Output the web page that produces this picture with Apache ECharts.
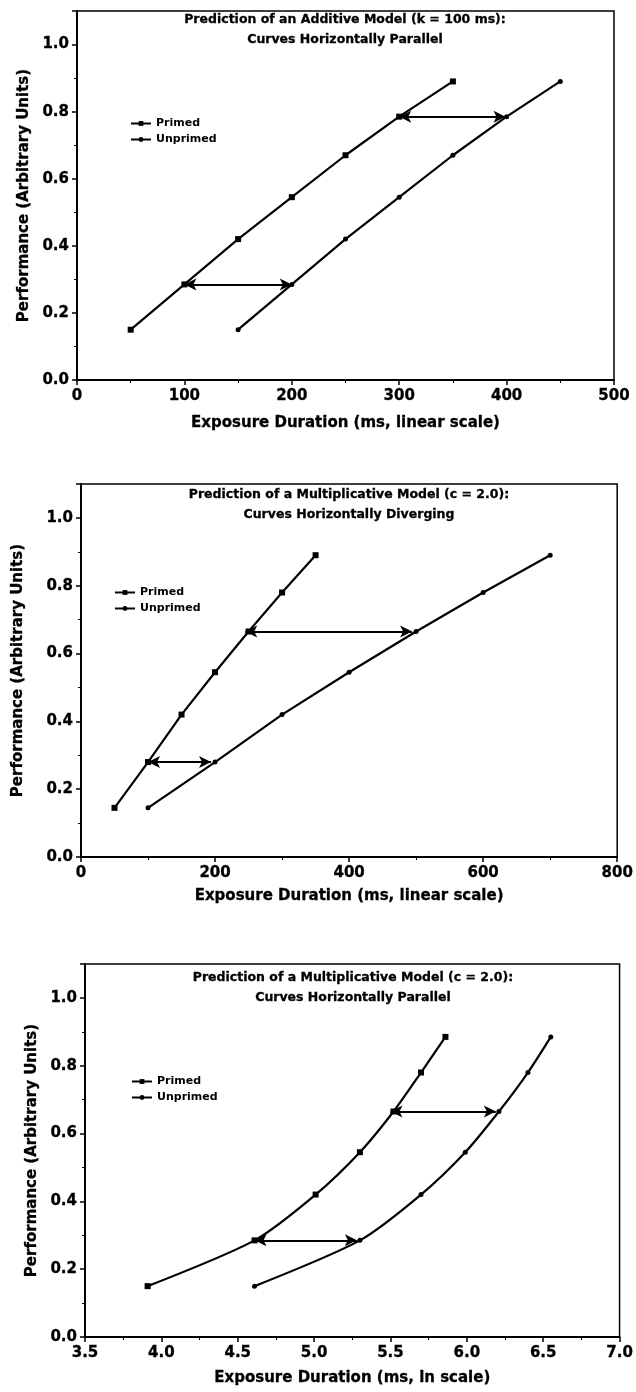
<!DOCTYPE html>
<html><head><meta charset="utf-8">
<script src="https://cdn.jsdelivr.net/npm/echarts@6/dist/echarts.min.js"></script>
<style>html,body{margin:0;padding:0;background:#fff}#c{width:636px;height:1392px}</style>
</head><body><div id="c"></div>
<script>
// ---- texts ----
const panelTitles = [
  'Prediction of an Additive Model (k = 100 ms):\nCurves Horizontally Parallel',
  'Prediction of a Multiplicative Model (c = 2.0):\nCurves Horizontally Diverging',
  'Prediction of a Multiplicative Model (c = 2.0):\nCurves Horizontally Parallel'
];
const xTitles = ['Exposure Duration (ms, linear scale)', 'Exposure Duration (ms, linear scale)', 'Exposure Duration (ms, ln scale)'];
const yTitle = 'Performance (Arbitrary Units)';
const seriesNames = ['Primed', 'Unprimed'];

// ---- panel 1: additive model ----
const p1PrimedX = [50, 100, 150, 200, 250, 300, 350];
const p1PrimedY = [0.15, 0.285, 0.42, 0.545, 0.67, 0.785, 0.89];
const p1UnprimedX = [150, 200, 250, 300, 350, 400, 450];
const p1UnprimedY = [0.15, 0.285, 0.42, 0.545, 0.67, 0.785, 0.89];
const p1Arrows = [[100, 200, 0.285], [300, 399, 0.785]]; // [from x, to x, y]

// ---- panel 2: multiplicative, linear scale ----
const p2PrimedX = [50, 100, 150, 200, 250, 300, 350];
const p2PrimedY = [0.145, 0.28, 0.42, 0.545, 0.665, 0.78, 0.89];
const p2UnprimedX = [100, 200, 300, 400, 500, 600, 700];
const p2UnprimedY = [0.145, 0.28, 0.42, 0.545, 0.665, 0.78, 0.89];
const p2Arrows = [[100, 194, 0.28], [245, 494, 0.665]];

// ---- panel 3: multiplicative, ln scale ----
const p3PrimedX = [3.91, 4.61, 5.01, 5.30, 5.52, 5.70, 5.86];
const p3PrimedY = [0.15, 0.285, 0.42, 0.545, 0.665, 0.78, 0.885];
const p3UnprimedX = [4.61, 5.30, 5.70, 5.99, 6.21, 6.40, 6.55];
const p3UnprimedY = [0.15, 0.285, 0.42, 0.545, 0.665, 0.78, 0.885];
const p3Arrows = [[4.61, 5.28, 0.285], [5.50, 6.19, 0.665]];

// ---- axis ranges [min, max, interval] ----
const xRanges = [[0, 500, 100], [0, 800, 200], [3.5, 7.0, 0.5]];
const yRange = [0, 1.1, 0.2];
const xDecimals = [0, 0, 1];

// ---- build ----
const FONT = 'DejaVu Sans';
const pairs = (xs, ys) => xs.map((x, i) => [x, ys[i]]);
const panels = [
  {p: pairs(p1PrimedX, p1PrimedY), u: pairs(p1UnprimedX, p1UnprimedY), a: p1Arrows, smooth: false},
  {p: pairs(p2PrimedX, p2PrimedY), u: pairs(p2UnprimedX, p2UnprimedY), a: p2Arrows, smooth: false},
  {p: pairs(p3PrimedX, p3PrimedY), u: pairs(p3UnprimedX, p3UnprimedY), a: p3Arrows, smooth: 0.25}
];
const layout = [
  {left: 77, right: 22, top: 11, height: 369, yGap: 43, xGap: 36, tx: 345, tt: 10, lx: 130, lt: 118},
  {left: 81, right: 18, top: 484, height: 373, yGap: 55, xGap: 32, tx: 349, tt: 485, lx: 114, lt: 587},
  {left: 85, right: 15, top: 964, height: 373, yGap: 41, xGap: 34, tx: 353, tt: 968, lx: 131, lt: 1076}
];

const grid = [], xAxis = [], yAxis = [], series = [], title = [], legend = [];
const axisCommon = {
  axisLine: {show: true, lineStyle: {color: '#000', width: 2}},
  axisTick: {show: true, inside: false, length: 5, lineStyle: {color: '#000', width: 1.5}},
  minorTick: {show: true, splitNumber: 2, length: 3, lineStyle: {color: '#000', width: 1}},
  splitLine: {show: false},
  nameTextStyle: {fontFamily: FONT, fontWeight: 'bold', fontSize: 15, color: '#000',
    textBorderColor: '#000', textBorderWidth: 0.3}
};
layout.forEach((L, i) => {
  grid.push({left: L.left, right: L.right, top: L.top, height: L.height, show: true,
    borderColor: '#000', borderWidth: 1.5, backgroundColor: 'transparent'});
  const xr = xRanges[i];
  xAxis.push(Object.assign({}, axisCommon, {
    type: 'value', gridIndex: i, min: xr[0], max: xr[1], interval: xr[2],
    name: xTitles[i], nameLocation: 'middle', nameGap: L.xGap,
    axisLabel: {fontFamily: FONT, fontWeight: 'bold', fontSize: 15, color: '#000', margin: 9,
      textBorderColor: '#000', textBorderWidth: 0.3,
      formatter: v => v.toFixed(xDecimals[i])}
  }));
  yAxis.push(Object.assign({}, axisCommon, {
    type: 'value', gridIndex: i, min: yRange[0], max: yRange[1], interval: yRange[2],
    name: yTitle, nameLocation: 'middle', nameGap: L.yGap, nameRotate: 90,
    axisLabel: {fontFamily: FONT, fontWeight: 'bold', fontSize: 15, color: '#000', margin: 8,
      textBorderColor: '#000', textBorderWidth: 0.3,
      showMaxLabel: false, formatter: v => (v > 1.05 ? '' : v.toFixed(1))}
  }));
  const P = panels[i];
  series.push({
    name: seriesNames[0], type: 'line', xAxisIndex: i, yAxisIndex: i, data: P.p, smooth: P.smooth,
    symbol: 'rect', symbolSize: 6, showSymbol: true,
    lineStyle: {color: '#000', width: 2.2}, itemStyle: {color: '#000'},
    markLine: {
      silent: true, symbol: ['arrow', 'arrow'], symbolSize: [9, 12], precision: 4,
      label: {show: false}, lineStyle: {color: '#000', width: 2, type: 'solid'},
      emphasis: {disabled: true},
      data: P.a.map(a => [{coord: [a[0], a[2]]}, {coord: [a[1], a[2]]}])
    }
  });
  series.push({
    name: seriesNames[1], type: 'line', xAxisIndex: i, yAxisIndex: i, data: P.u, smooth: P.smooth,
    symbol: 'circle', symbolSize: 5, showSymbol: true,
    lineStyle: {color: '#000', width: 2.2}, itemStyle: {color: '#000'}
  });
  title.push({text: panelTitles[i], left: L.tx, top: L.tt, textAlign: 'center', padding: 0,
    textStyle: {fontFamily: FONT, fontWeight: 'bold', fontSize: 12.5, lineHeight: 20, color: '#000',
      textBorderColor: '#000', textBorderWidth: 0.3}});
  legend.push({left: L.lx, top: L.lt, orient: 'vertical', data: seriesNames, itemWidth: 20, itemHeight: 6,
    itemGap: 5, padding: 0, selectedMode: false,
    textStyle: {fontFamily: FONT, fontWeight: 'bold', fontSize: 11, color: '#000'}});
});

const chart = echarts.init(document.getElementById('c'), null, {renderer: 'canvas'});
chart.setOption({animation: false, backgroundColor: '#fff', title, legend, grid, xAxis, yAxis, series});
</script></body></html>
